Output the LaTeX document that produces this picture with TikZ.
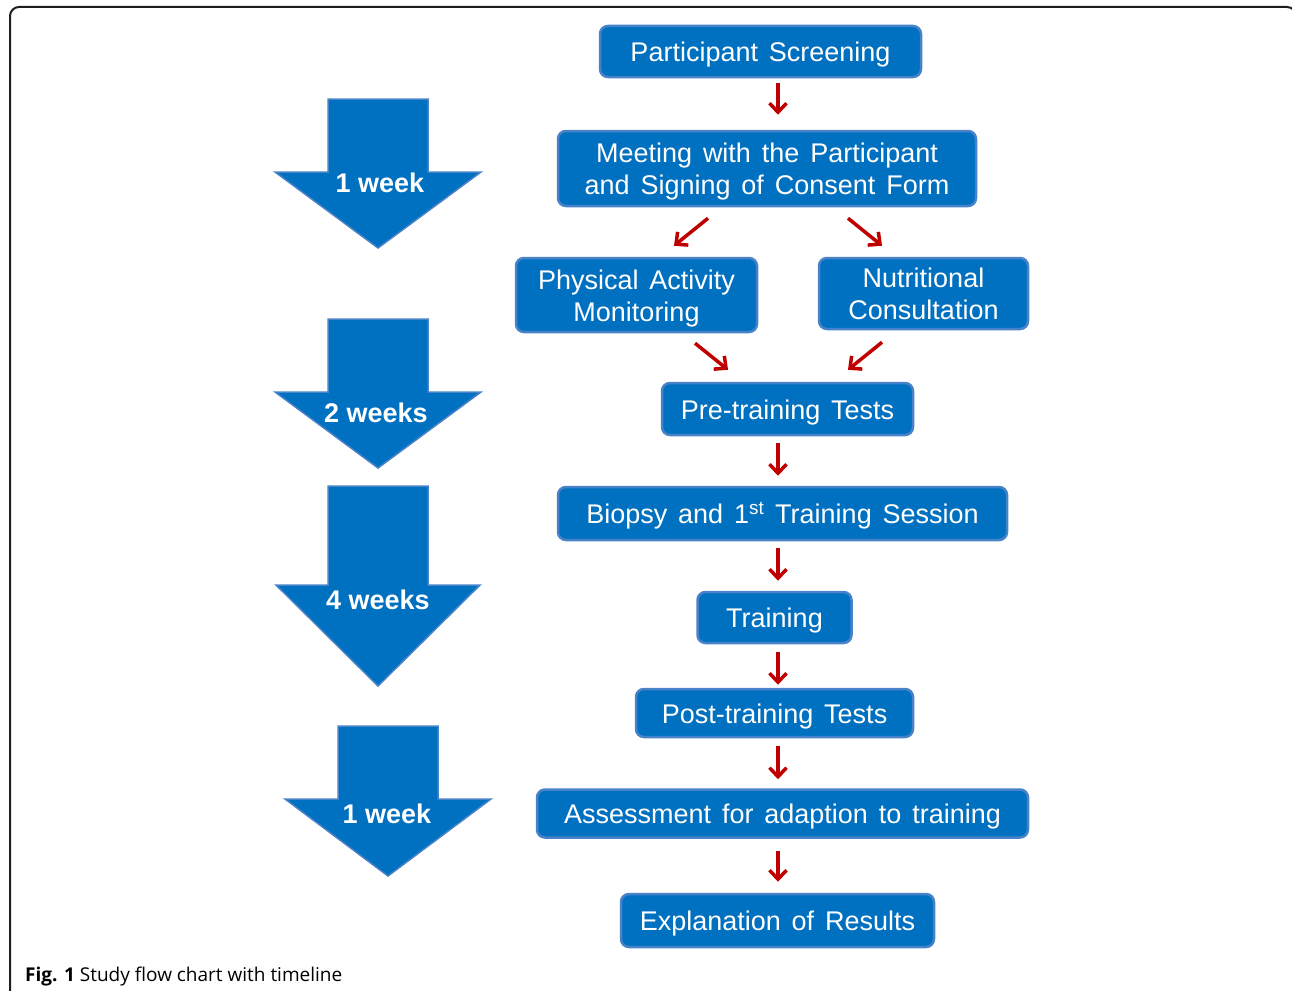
\documentclass[tikz,border=0pt]{standalone}
\usepackage{fontspec}
\setmainfont{Liberation Sans}
\newfontfamily\boxfont{Liberation Sans}[WordSpace=1.45]
\newfontfamily\capfont{Open Sans}
\usetikzlibrary{arrows.meta}
\definecolor{boxblue}{RGB}{0,112,192}
\definecolor{boxedge}{RGB}{72,130,200}
\definecolor{arrred}{RGB}{192,0,0}
\definecolor{framecol}{RGB}{30,30,30}
\newcommand\topstrut{\rule{0pt}{26pt}}
\newcommand\botstrut{\rule[-6pt]{0pt}{6pt}}
\begin{document}
\begin{tikzpicture}[x=1pt,y=-1pt,
  stepbox/.style={draw=boxedge, fill=boxblue, line width=2.5pt, rounded corners=8pt,
    text=white, font=\boxfont\fontsize{27}{32}\selectfont, align=center, inner sep=0pt},
  oneline/.style={stepbox, text height=20pt, text depth=0pt},
  ra/.style={draw=arrred, line width=3.5pt, -{Straight Barb[length=9pt,width=17pt]}},
  tlarrow/.style={fill=boxblue, draw=boxedge, line width=1.5pt, line join=miter},
  tltext/.style={text=white, font=\bfseries\fontsize{27}{30}\selectfont, inner sep=0pt},
  framed/.style={draw=framecol, line width=2pt, rounded corners=9pt}]
\useasboundingbox (0,0) rectangle (1292,990);
\clip (0,0) rectangle (1292,990);
\draw[framed] (10,7) rectangle (1296,1010);

% timeline arrows
\draw[tlarrow] (328,99) -- (428,99) -- (428,172) -- (481,172) -- (378,248) -- (275,172) -- (328,172) -- cycle;
\draw[tlarrow] (328,319) -- (428,319) -- (428,392) -- (481,392) -- (378,468) -- (275,392) -- (328,392) -- cycle;
\draw[tlarrow] (328,486) -- (428,486) -- (428,585) -- (480,585) -- (378,686) -- (276,585) -- (328,585) -- cycle;
\draw[tlarrow] (338,726) -- (438,726) -- (438,799) -- (491,799) -- (388,876) -- (285,799) -- (338,799) -- cycle;
\node[tltext] (w1) at (380,183) {1 week};
\node[tltext] (w2) at (376,413) {2 weeks};
\node[tltext] (w3) at (378,600) {4 weeks};
\node[tltext] (w4) at (387,814) {1 week};

% flow boxes
\node[oneline, minimum width=321, minimum height=51] (p1) at (760.5,51.5) {Participant Screening};
\node[stepbox, minimum width=418, minimum height=75] (p2) at (767,168.5) {\topstrut Meeting with the Participant\\and Signing of Consent Form\botstrut};
\node[stepbox, minimum width=241, minimum height=74] (p3) at (636.5,295) {\topstrut Physical Activity\\Monitoring\botstrut};
\node[stepbox, minimum width=209, minimum height=71] (p4) at (923.5,293.5) {\topstrut Nutritional\\Consultation\botstrut};
\node[oneline, minimum width=251, minimum height=52] (p5) at (787.5,409) {Pre-training Tests};
\node[oneline, minimum width=449, minimum height=53] (p6) at (782.5,513.5) {Biopsy and 1\textsuperscript{st} Training Session};
\node[oneline, minimum width=154, minimum height=51] (p7) at (774.5,617.5) {Training};
\node[oneline, minimum width=277, minimum height=48] (p8) at (774.5,713) {Post-training Tests};
\node[oneline, minimum width=491, minimum height=48] (p9) at (782.5,813.5) {Assessment for adaption to training};
\node[oneline, minimum width=313, minimum height=53] (p10) at (777.5,920.5) {Explanation of Results};

% red connectors
\draw[ra] ([shift={(17.5,5)}]p1.south) -- ([shift={(11,-15)}]p2.north);
\draw[ra] ([shift={(-59,11)}]p2.south) -- ([shift={(37.5,-11)}]p3.north);
\draw[ra] ([shift={(81,11)}]p2.south) -- ([shift={(-41.5,-11)}]p4.north);
\draw[ra] ([shift={(58.5,10)}]p3.south) -- ([shift={(-59.5,-12)}]p5.north);
\draw[ra] ([shift={(-41.5,12)}]p4.south) -- ([shift={(60.5,-12)}]p5.north);
\draw[ra] ([shift={(-9.5,7)}]p5.south) -- ([shift={(-4.5,-10)}]p6.north);
\draw[ra] ([shift={(-4.5,7)}]p6.south) -- ([shift={(3.5,-10)}]p7.north);
\draw[ra] ([shift={(3.5,8)}]p7.south) -- ([shift={(3.5,-3)}]p8.north);
\draw[ra] ([shift={(3.5,8)}]p8.south) -- ([shift={(-4.5,-9)}]p9.north);
\draw[ra] ([shift={(-4.5,12)}]p9.south) -- ([shift={(0.5,-11)}]p10.north);

% caption
\node[anchor=base west, inner sep=0pt, font=\capfont\fontsize{19}{22}\selectfont] (cap) at (25,981) {\textbf{Fig. 1} Study flow chart with timeline};
\end{tikzpicture}
\end{document}
